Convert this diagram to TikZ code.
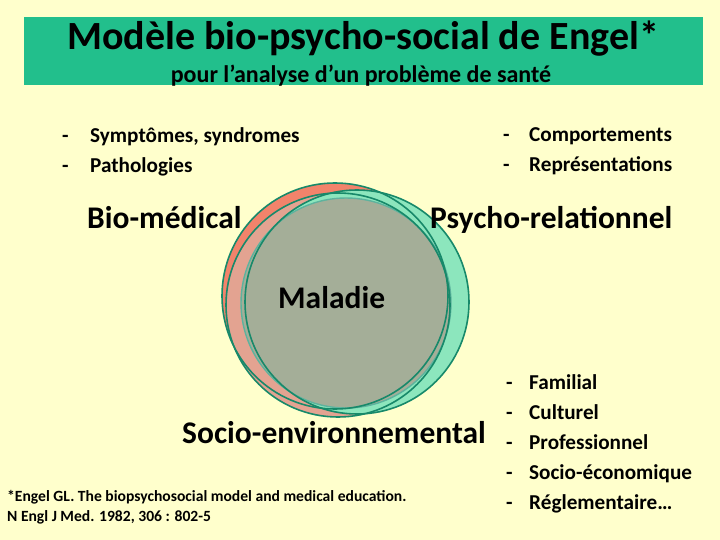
\documentclass[tikz,border=0pt]{standalone}
\usepackage{fontspec}
\setmainfont{Carlito}
\usepackage{tikz}
\usetikzlibrary{positioning}
\definecolor{fond}{HTML}{FFFFCC}
\definecolor{bandeau}{HTML}{22BF8C}
\definecolor{trait}{HTML}{17896A}
\definecolor{saumon}{HTML}{F2836B}
\definecolor{saumonpale}{HTML}{E3A391}
\definecolor{vertclair}{HTML}{8CE6BD}
\definecolor{gris}{HTML}{A4AE98}
\definecolor{bordgris}{HTML}{5DB39E}
\newcommand{\tiret}[1]{\makebox[#1][l]{-}}

\begin{document}
\begin{tikzpicture}[x=1pt,y=-1pt,
  lbl/.style={anchor=base west,inner sep=0pt,text=black},
  liste/.style={lbl,align=left,font=\fontsize{21.2}{30}\selectfont\bfseries},
  gros/.style={lbl,font=\fontsize{31.5}{34}\selectfont\bfseries},
  cercle/.style={draw=trait,line width=1.6pt}]
  % fond et bandeau
  \path[fill=fond] (0,0) rectangle (720,540);
  \useasboundingbox (0,0) rectangle (720,540);
  \fill[bandeau] (24,17) rectangle (703,85);
  \node[inner sep=0pt,anchor=base,font=\fontsize{40}{42}\selectfont\bfseries] (titre) at (363,50) {Modèle bio-psycho-social de Engel*};
  \node[inner sep=0pt,anchor=base,font=\fontsize{24}{26}\selectfont\bfseries] (soustitre) at (361,83) {pour l’analyse d’un problème de santé};

  % les trois cercles
  \fill[saumon]     (335,296) circle (113);
  \fill[saumonpale] (338,305) circle (112);
  \fill[vertclair]  (357,302) circle (112);
  \filldraw[fill=gris,draw=bordgris,line width=1.4pt] (346,303) circle (105);
  \draw[cercle] (335,296) circle (113);
  \draw[cercle] (338,305) circle (112);
  \draw[cercle] (357,302) circle (112);

  % listes (ancre sur la ligne de base de la derniere ligne)
  \node[liste] (bio) at (62,173) {\tiret{28pt}Symptômes, syndromes\\\tiret{28pt}Pathologies};
  \node[liste] (psy) at (503,172) {\tiret{26pt}Comportements\\\tiret{26pt}Représentations};
  \node[liste] (soc) at (506,509) {\tiret{23pt}Familial\\\tiret{23pt}Culturel\\\tiret{23pt}Professionnel\\\tiret{23pt}Socio-économique\\\tiret{23pt}Réglementaire…};

  % etiquettes
  \node[gros] (biomed) at (87,229) {Bio-médical};
  \node[gros] (psyrel) at (430,229) {Psycho-relationnel};
  \node[gros] (maladie) at (278,308) {Maladie};
  \node[gros] (socenv) at (182,443) {Socio-environnemental};

  % reference
  \node[lbl,align=left,font=\fontsize{15.6}{20}\selectfont\bfseries] (ref) at (7,521)
    {*Engel GL. The biopsychosocial model and medical education.\\N Engl J Med. 1982, 306 : 802-5};
\end{tikzpicture}
\end{document}
